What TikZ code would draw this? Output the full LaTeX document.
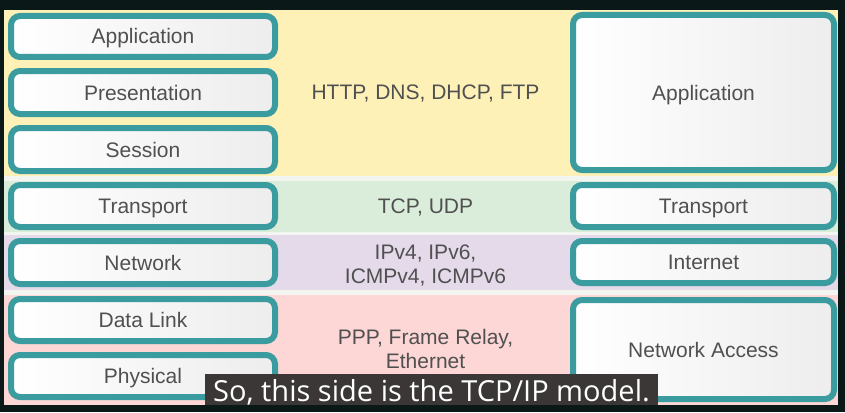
\documentclass[tikz,border=0pt]{standalone}
\usepackage{fontspec}
\setmainfont{Liberation Sans}
\newfontfamily\capfont{Open Sans}
\definecolor{bgdark}{HTML}{0A1818}
\definecolor{tealb}{HTML}{3A9C9E}
\definecolor{bandY}{HTML}{FDF1B8}
\definecolor{bandG}{HTML}{DAEDDA}
\definecolor{bandP}{HTML}{E4DAEA}
\definecolor{bandR}{HTML}{FCD7D6}
\definecolor{gapc}{HTML}{F3F5F1}
\definecolor{txt}{HTML}{505050}
\definecolor{capbg}{HTML}{3B3737}
\tikzset{
  txtfont/.style={text=txt, font=\fontsize{21}{24}\selectfont},
  capcenter/.style={text height=15pt, text depth=0pt},
  layer/.style={draw=tealb, line width=6pt, rounded corners=9pt,
    left color=white, right color=black!7, inner sep=0pt,
    txtfont, capcenter, align=center},
  lcol/.style={layer, minimum width=264pt},
  rcol/.style={layer, minimum width=261pt},
  proto/.style={txtfont, align=center, inner sep=0pt},
  captext/.style={text=white, font=\capfont\fontsize{29}{30}\selectfont, inner sep=0pt, anchor=base}
}
\begin{document}
\begin{tikzpicture}[x=1pt,y=-1pt]
\useasboundingbox (0,0) rectangle (845,412);
\fill[bgdark] (0,0) rectangle (845,412);
% bands
\fill[gapc] (4,10) rectangle (838,405);
\fill[bandY] (4,10) rectangle (838,176);
\fill[bandG] (4,181) rectangle (838,232);
\fill[bandP] (4,235) rectangle (838,290);
\fill[bandR] (4,295) rectangle (838,405);
% OSI layers
\node[lcol, minimum height=41pt] (app)  at (143,36.5) {Application};
\node[lcol, minimum height=43pt] (pres) at (143,92.5) {Presentation};
\node[lcol, minimum height=43pt] (sess) at (143,149.5) {Session};
\node[lcol, minimum height=42pt] (trans) at (143,206) {Transport};
\node[lcol, minimum height=43pt] (net)  at (143,262.5) {Network};
\node[lcol, minimum height=42pt] (dl)   at (143,320) {Data Link};
\node[lcol, minimum height=42pt] (phy)  at (143,376) {Physical};
% protocols
\node[proto, capcenter] (p1) at (425.5,92) {HTTP, DNS, DHCP, FTP};
\node[proto, capcenter] (p2) at (425.5,206) {TCP, UDP};
\node[proto] (p3) at (425.5,266) {IPv4, IPv6,\\ICMPv4, ICMPv6};
\node[proto] (p4) at (425.5,349) {PPP, Frame Relay,\\Ethernet};
% TCP/IP layers
\node[rcol, minimum height=155pt] (tapp) at (703.5,92.5) {Application};
\node[rcol, minimum height=42pt] (ttrans) at (703.5,206) {Transport};
\node[rcol, minimum height=42pt] (tnet) at (703.5,262) {Internet};
\node[rcol, minimum height=99pt] (tacc) at (703.5,349.5) {Network Access};
% caption
\fill[capbg] (205,374) rectangle (658,405);
\node[captext] (cap) at (431.5,401) {So, this side is the TCP/IP model.};
\end{tikzpicture}
\end{document}
